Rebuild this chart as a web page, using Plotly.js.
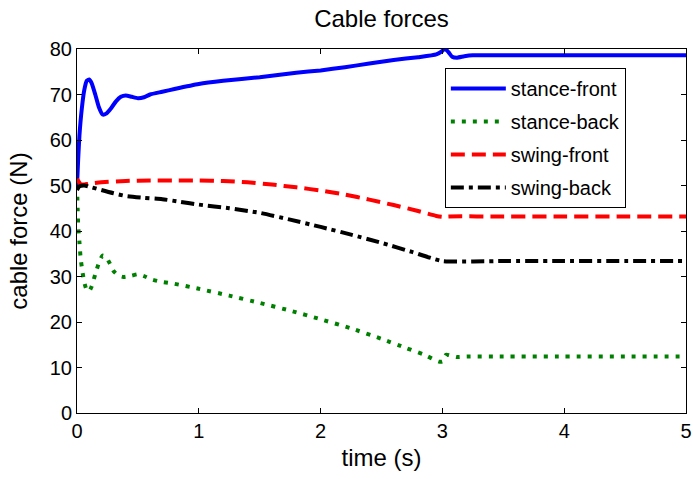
<!DOCTYPE html>
<html>
<head>
<meta charset="utf-8">
<script src="https://cdn.plot.ly/plotly-3.0.1.min.js"></script>
<style>html,body{margin:0;padding:0;background:#fff;}#chart{width:693px;height:479px;}</style>
</head>
<body>
<div id="chart"></div>
<script>
// ---- data ----
const seriesNames = ["stance-front", "stance-back", "swing-front", "swing-back"];

const tStanceFront = [0, 0.01, 0.02, 0.04, 0.06, 0.08, 0.1, 0.12, 0.15, 0.18, 0.21, 0.24, 0.28, 0.32, 0.36, 0.4, 0.45, 0.5, 0.55, 0.6, 0.7, 0.8, 1.0, 1.2, 1.5, 1.8, 2.0, 2.2, 2.4, 2.6, 2.8, 2.95, 3.0, 3.02, 3.05, 3.08, 3.12, 3.18, 3.25, 3.5, 4, 4.5, 5];
const stanceFront  = [50, 56, 61, 67, 71, 73, 73.3, 72.5, 70, 67.2, 65.6, 65.8, 67, 68.5, 69.5, 69.8, 69.5, 69.2, 69.4, 70, 70.6, 71.2, 72.3, 73, 73.8, 74.8, 75.3, 76, 76.8, 77.6, 78.2, 78.8, 79.6, 80.1, 79.3, 78.3, 78.1, 78.4, 78.6, 78.6, 78.6, 78.6, 78.6];

const tStanceBack = [0, 0.005, 0.01, 0.02, 0.03, 0.045, 0.06, 0.08, 0.1, 0.12, 0.15, 0.18, 0.21, 0.24, 0.27, 0.3, 0.34, 0.38, 0.45, 0.5, 0.55, 0.62, 0.7, 0.8, 1.0, 1.25, 1.5, 1.75, 2.0, 2.25, 2.5, 2.7, 2.85, 2.97, 3.0, 3.03, 3.07, 3.12, 3.2, 3.5, 4, 4.5, 5];
const stanceBack  = [50, 45, 41, 37.5, 34, 31, 28.7, 27, 26.8, 27.8, 30.5, 33, 34.6, 34.3, 32.8, 31.2, 30.2, 29.9, 30.2, 30.5, 30.1, 29.3, 28.8, 28.4, 27.3, 25.8, 24.2, 22.5, 20.6, 18.6, 16.3, 14.3, 12.8, 11.3, 11.3, 12.8, 12.6, 12.3, 12.4, 12.4, 12.4, 12.4, 12.4];

const tSwingFront = [0, 0.01, 0.03, 0.06, 0.1, 0.2, 0.4, 0.6, 0.8, 1.0, 1.2, 1.4, 1.6, 1.8, 2.0, 2.2, 2.4, 2.6, 2.8, 2.95, 3.0, 3.05, 3.5, 4, 4.5, 5];
const swingFront  = [51.5, 51, 50.3, 50.2, 50.4, 50.7, 51, 51.1, 51.1, 51.1, 51, 50.7, 50.2, 49.6, 48.9, 48, 46.9, 45.7, 44.4, 43.3, 43.1, 43.2, 43.2, 43.2, 43.2, 43.2];

const tSwingBack = [0, 0.02, 0.06, 0.12, 0.2, 0.3, 0.4, 0.55, 0.7, 0.85, 1.0, 1.25, 1.5, 1.75, 2.0, 2.25, 2.5, 2.75, 3.0, 3.5, 4, 4.5, 5];
const swingBack  = [49, 49.8, 50, 49.6, 49, 48.3, 47.7, 47.3, 47, 46.4, 45.8, 45, 44, 42.5, 40.9, 39.2, 37.4, 35.4, 33.4, 33.4, 33.4, 33.4, 33.4];

const xTicks = [0, 1, 2, 3, 4, 5];
const yTicks = [0, 10, 20, 30, 40, 50, 60, 70, 80];

// ---- traces ----
const FONT = "Arial, 'Liberation Sans', Helvetica, sans-serif";
const styles = [
  {color: "rgb(0,0,255)", dash: "solid"},
  {color: "rgb(0,128,0)", dash: "4px,7px"},
  {color: "rgb(255,0,0)", dash: "14px,7px"},
  {color: "rgb(0,0,0)", dash: "13px,5px,4px,5px"}
];
const xs = [tStanceFront, tStanceBack, tSwingFront, tSwingBack];
const ys = [stanceFront, stanceBack, swingFront, swingBack];

const traces = seriesNames.map((name, i) => ({
  type: "scatter",
  mode: "lines",
  name: name,
  x: xs[i],
  y: ys[i],
  legendgroup: "g" + i,
  line: {color: styles[i].color, width: 4, dash: styles[i].dash, shape: "spline", smoothing: 0.5}
}));

const layout = {
  width: 693,
  height: 479,
  margin: {l: 77, r: 7, t: 49, b: 66},
  paper_bgcolor: "#fff",
  plot_bgcolor: "#fff",
  font: {family: FONT, color: "#000", size: 20},
  title: {
    text: "Cable forces",
    font: {family: FONT, size: 24, color: "#000"},
    x: 0.5, xref: "paper",
    y: 0.962, yref: "container", yanchor: "middle"
  },
  xaxis: {
    range: [0, 5],
    tickvals: xTicks,
    ticktext: xTicks.map(String),
    ticks: "inside",
    ticklen: 5,
    tickcolor: "#000",
    showline: true,
    linecolor: "#000",
    linewidth: 1,
    mirror: "ticks",
    showgrid: false,
    zeroline: false,
    ticklabeloverflow: "allow",
    tickfont: {family: FONT, size: 20, color: "#000"},
    title: {text: "time (s)", font: {family: FONT, size: 24, color: "#000"}, standoff: 8}
  },
  yaxis: {
    range: [0, 80],
    tickvals: yTicks,
    ticktext: yTicks.map(String),
    ticks: "inside",
    ticklen: 5,
    tickcolor: "#000",
    showline: true,
    linecolor: "#000",
    linewidth: 1,
    mirror: "ticks",
    showgrid: false,
    zeroline: false,
    tickfont: {family: FONT, size: 20, color: "#000"},
    title: {text: "cable force (N)", font: {family: FONT, size: 24, color: "#000"}, standoff: 15}
  },
  showlegend: true,
  legend: {
    x: 0.604, y: 0.948, xanchor: "left", yanchor: "top",
    bgcolor: "#fff",
    bordercolor: "#000",
    borderwidth: 1,
    font: {family: FONT, size: 20, color: "#000"},
    itemwidth: 55,
    tracegroupgap: 4,
    traceorder: "grouped"
  }
};

Plotly.newPlot("chart", traces, layout, {staticPlot: true, displayModeBar: false});
</script>
</body>
</html>
